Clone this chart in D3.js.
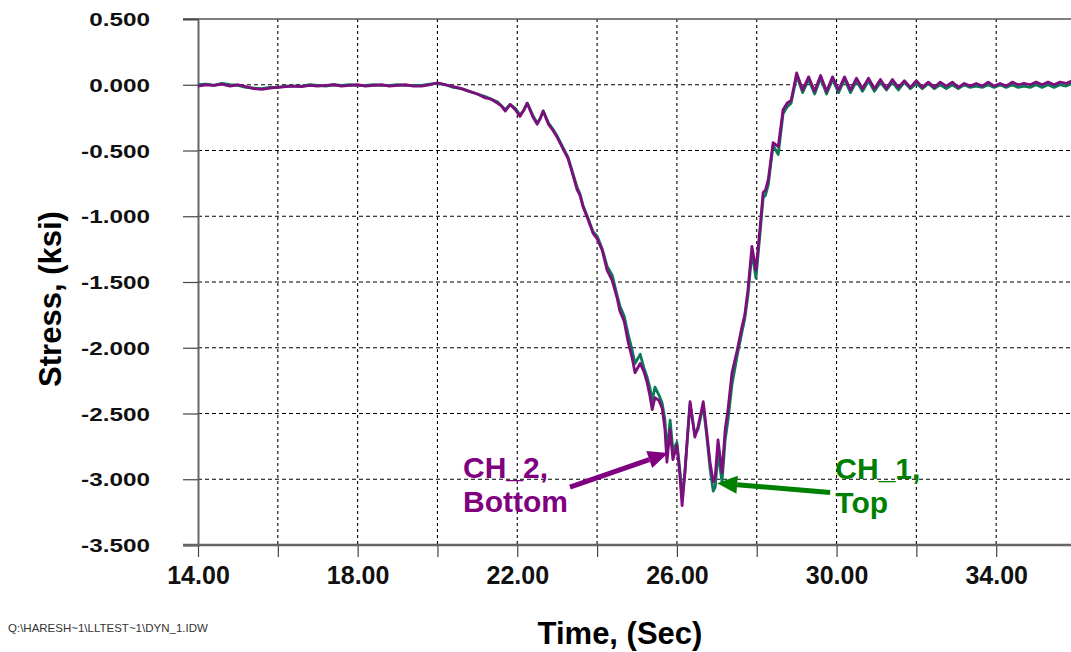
<!DOCTYPE html>
<html>
<head>
<meta charset="utf-8">
<script src="https://cdn.jsdelivr.net/npm/d3@7"></script>
<style>
  body { margin: 0; background: #fff; }
  svg { display: block; font-family: "Liberation Sans", Arial, sans-serif; }
</style>
</head>
<body>
<svg width="1071" height="652"></svg>
<script>
// time (s) and stress (ksi)
const time = [14.0, 14.2, 14.4, 14.6, 14.8, 15.0, 15.2, 15.4, 15.6, 15.8, 16.0, 16.2, 16.4, 16.6, 16.8,
  17.0, 17.2, 17.4, 17.6, 17.8, 18.0, 18.2, 18.4, 18.6, 18.8, 19.0, 19.2, 19.4, 19.6, 19.8,
  20.0, 20.2, 20.4, 20.6, 20.8, 21.0, 21.2, 21.35, 21.5, 21.6, 21.7, 21.82, 21.95, 22.07, 22.17,
  22.25, 22.4, 22.5, 22.57, 22.65, 22.78, 22.9, 23.0, 23.15, 23.27, 23.37, 23.5, 23.57, 23.65, 23.78,
  23.9, 24.0, 24.13, 24.25, 24.38, 24.5, 24.57, 24.68, 24.78, 24.88, 24.95, 25.08, 25.17, 25.25, 25.32,
  25.38, 25.45, 25.55, 25.63, 25.7, 25.75, 25.83, 25.9, 26.0, 26.07, 26.13, 26.2, 26.27, 26.33, 26.45,
  26.53, 26.6, 26.66, 26.75, 26.83, 26.91, 26.96, 27.03, 27.13, 27.21, 27.28, 27.38, 27.51, 27.63, 27.7,
  27.78, 27.88, 27.98, 28.08, 28.16, 28.22, 28.29, 28.41, 28.54, 28.66, 28.76, 28.86, 28.93, 29.0, 29.15,
  29.3, 29.45, 29.6, 29.75, 29.9, 30.05, 30.2, 30.35, 30.5, 30.65, 30.8, 30.95, 31.1, 31.25, 31.4,
  31.55, 31.7, 31.85, 32.0, 32.15, 32.3, 32.45, 32.6, 32.75, 32.9, 33.05, 33.2, 33.35, 33.5, 33.65,
  33.8, 33.95, 34.1, 34.25, 34.4, 34.55, 34.7, 34.85, 35.0, 35.15, 35.3, 35.45, 35.6, 35.75, 35.9, 36.0];

// CH_1, Top (green)
const ch1 = [0.0, 0.005, -0.005, 0.01, 0.0, -0.005, -0.02, -0.025, -0.03, -0.02, -0.02, -0.01, -0.01, -0.01, 0.0,
  -0.005, -0.01, 0.0, -0.005, 0.0, -0.005, -0.005, 0.0, -0.005, -0.005, 0.0, -0.005, -0.005, -0.005, 0.005,
  0.01, 0.0, -0.02, -0.03, -0.05, -0.07, -0.09, -0.11, -0.13, -0.16, -0.19, -0.15, -0.18, -0.23, -0.19,
  -0.14, -0.24, -0.29, -0.26, -0.20, -0.29, -0.34, -0.39, -0.48, -0.55, -0.65, -0.78, -0.83, -0.92, -1.02,
  -1.12, -1.15, -1.25, -1.38, -1.45, -1.60, -1.68, -1.76, -1.90, -2.02, -2.12, -2.05, -2.15, -2.22, -2.30,
  -2.40, -2.30, -2.36, -2.42, -2.55, -2.80, -2.55, -2.78, -2.72, -2.92, -3.14, -2.95, -2.66, -2.43, -2.66,
  -2.62, -2.52, -2.44, -2.68, -2.92, -3.09, -3.06, -2.80, -3.02, -2.70, -2.55, -2.28, -2.06, -1.88, -1.78,
  -1.60, -1.27, -1.47, -1.14, -0.86, -0.84, -0.76, -0.46, -0.53, -0.22, -0.17, -0.14, -0.04, 0.07, -0.06,
  0.04, -0.07, 0.05, -0.07, 0.04, -0.06, 0.04, -0.06, 0.03, -0.05, 0.03, -0.05, 0.02, -0.04, 0.02,
  -0.04, 0.02, -0.03, 0.01, -0.03, 0.01, -0.03, 0.0, -0.03, 0.0, -0.03, 0.0, -0.02, -0.01, -0.02,
  0.0, -0.02, 0.0, -0.02, 0.0, -0.02, -0.01, -0.02, 0.0, -0.02, 0.0, -0.02, 0.0, -0.01, 0.01, -0.01];

// CH_2, Bottom (purple)
const ch2 = [-0.01, 0.0, -0.005, 0.005, -0.01, 0.0, -0.015, -0.03, -0.035, -0.025, -0.02, -0.015, -0.01, -0.015, -0.005,
  -0.01, -0.005, 0.0, -0.01, -0.005, 0.0, -0.01, -0.005, 0.0, -0.01, -0.005, 0.0, -0.01, -0.01, 0.0,
  0.015, 0.0, -0.015, -0.03, -0.05, -0.07, -0.10, -0.11, -0.14, -0.16, -0.20, -0.15, -0.19, -0.24, -0.19,
  -0.14, -0.25, -0.30, -0.26, -0.20, -0.30, -0.35, -0.40, -0.49, -0.56, -0.66, -0.80, -0.84, -0.93, -1.03,
  -1.13, -1.17, -1.26, -1.41, -1.49, -1.62, -1.72, -1.80, -1.96, -2.08, -2.19, -2.12, -2.18, -2.26, -2.36,
  -2.47, -2.38, -2.40, -2.46, -2.62, -2.87, -2.62, -2.85, -2.74, -2.95, -3.20, -2.95, -2.65, -2.41, -2.68,
  -2.60, -2.50, -2.41, -2.65, -2.87, -3.02, -2.98, -2.70, -2.95, -2.62, -2.47, -2.19, -2.02, -1.84, -1.75,
  -1.56, -1.23, -1.41, -1.10, -0.82, -0.80, -0.72, -0.44, -0.47, -0.19, -0.14, -0.12, -0.02, 0.09, -0.04,
  0.06, -0.05, 0.07, -0.05, 0.06, -0.04, 0.06, -0.04, 0.05, -0.03, 0.05, -0.03, 0.04, -0.03, 0.04,
  -0.02, 0.03, -0.02, 0.03, -0.02, 0.02, -0.02, 0.02, -0.01, 0.02, -0.02, 0.01, -0.01, 0.01, -0.01,
  0.02, -0.01, 0.01, -0.01, 0.02, 0.0, 0.01, 0.0, 0.02, 0.0, 0.02, 0.0, 0.02, 0.01, 0.03, 0.01];

const xTicks = [14, 16, 18, 20, 22, 24, 26, 28, 30, 32, 34, 36];
const xLabelTicks = [14, 18, 22, 26, 30, 34];
const yTicks = [0.5, 0, -0.5, -1, -1.5, -2, -2.5, -3, -3.5];

// annotations in data units: label lines + arrow [tail, head]
const notes = [
  { lines: ["CH_2,", "Bottom"], color: "#800080", text: [20.64, -2.99], from: [23.32, -3.06], to: [25.78, -2.80] },
  { lines: ["CH_1,", "Top"], color: "#008000", text: [29.97, -3.0], from: [29.84, -3.10], to: [27.01, -3.03] }
];

const svg = d3.select("svg");
const x = d3.scaleLinear().domain([14, 36]).range([198, 1076]);
const y = d3.scaleLinear().domain([-3.5, 0.5]).range([545, 19]);
const fmtY = v => d3.format(".3f")(v).replace("\u2212", "-");

// grid
svg.append("g").selectAll("line")
  .data(xTicks.filter(t => t > 14))
  .join("line")
  .attr("x1", d => x(d)).attr("x2", d => x(d))
  .attr("y1", y(0.5)).attr("y2", y(-3.5))
  .attr("stroke", "#000").attr("stroke-width", 1.1).attr("stroke-dasharray", "3,3");

svg.append("g").selectAll("line")
  .data(yTicks.filter(v => v < 0.5 && v > -3.5))
  .join("line")
  .attr("x1", x(14)).attr("x2", 1071)
  .attr("y1", d => y(d)).attr("y2", d => y(d))
  .attr("stroke", "#000").attr("stroke-width", 1.1).attr("stroke-dasharray", "4,3");

// frame top
svg.append("line")
  .attr("x1", 183).attr("x2", 1071).attr("y1", y(0.5)).attr("y2", y(0.5))
  .attr("stroke", "#555").attr("stroke-width", 1.5);

// y axis
const yAxis = svg.append("g").attr("transform", `translate(${x(14)},0)`)
  .call(d3.axisLeft(y).tickValues(yTicks).tickSize(15).tickPadding(0).tickFormat(fmtY));
yAxis.select(".domain").attr("stroke", "#666").attr("stroke-width", 2);
yAxis.selectAll(".tick line").attr("stroke", "#444").attr("stroke-width", 1.2);
yAxis.selectAll(".tick text").remove();
yAxis.selectAll(".tick").append("text")
  .attr("transform", "translate(-48,0) scale(1.28,1)")
  .attr("text-anchor", "end").attr("dy", "0.35em")
  .attr("fill", "#111").style("font-size", "19px").style("font-weight", "bold")
  .style("font-family", "'Liberation Sans', Arial, sans-serif")
  .text(d => fmtY(d));

// x axis
const xAxis = svg.append("g").attr("transform", `translate(0,${y(-3.5)})`)
  .call(d3.axisBottom(x).tickValues(xTicks).tickSize(12).tickPadding(9)
    .tickFormat(d => xLabelTicks.includes(d) ? d3.format(".2f")(d) : ""));
xAxis.select(".domain").remove();
xAxis.append("line").attr("x1", 183).attr("x2", 1071).attr("y1", 0).attr("y2", 0)
  .attr("stroke", "#666").attr("stroke-width", 2.5);
xAxis.selectAll(".tick line").attr("stroke", "#444").attr("stroke-width", 1.2);
xAxis.selectAll(".tick text").attr("fill", "#111")
  .style("font-size", "25px").style("font-weight", "bold")
  .style("font-family", "'Liberation Sans', Arial, sans-serif");

// traces
const line = d3.line().x((d, i) => x(time[i])).y(d => y(d));
svg.append("path").datum(ch1).attr("d", line)
  .attr("fill", "none").attr("stroke", "#0b7a55").attr("stroke-width", 2.8).attr("stroke-linejoin", "round");
svg.append("path").datum(ch2).attr("d", line)
  .attr("fill", "none").attr("stroke", "#7d0e7d").attr("stroke-width", 2.8).attr("stroke-linejoin", "round");

// annotations
notes.forEach(n => {
  const t = svg.append("text").attr("x", x(n.text[0])).attr("y", y(n.text[1]))
    .attr("fill", n.color).style("font-size", "30px").style("font-weight", "bold");
  n.lines.forEach((s, i) => t.append("tspan").attr("x", x(n.text[0])).attr("dy", i ? 34 : 0).text(s));

  const x0 = x(n.from[0]), y0 = y(n.from[1]), x1 = x(n.to[0]), y1 = y(n.to[1]);
  const a = Math.atan2(y1 - y0, x1 - x0), len = 20, w = 9;
  const bx = x1 - len * Math.cos(a), by = y1 - len * Math.sin(a);
  svg.append("line").attr("x1", x0).attr("y1", y0).attr("x2", bx).attr("y2", by)
    .attr("stroke", n.color).attr("stroke-width", 5);
  svg.append("path")
    .attr("d", `M${x1},${y1}L${bx - w * Math.sin(a)},${by + w * Math.cos(a)}L${bx + w * Math.sin(a)},${by - w * Math.cos(a)}Z`)
    .attr("fill", n.color);
});

// axis titles
svg.append("text").attr("x", 620).attr("y", 644).attr("text-anchor", "middle")
  .style("font-size", "31px").style("font-weight", "bold").attr("fill", "#000").text("Time, (Sec)");
svg.append("text").attr("transform", "translate(61,299) rotate(-90)").attr("text-anchor", "middle")
  .style("font-size", "31px").style("font-weight", "bold").attr("fill", "#000").text("Stress, (ksi)");

// file path footer
svg.append("text").attr("x", 8).attr("y", 632)
  .style("font-size", "11.5px").attr("fill", "#333").text("Q:\\HARESH~1\\LLTEST~1\\DYN_1.IDW");
</script>
</body>
</html>
